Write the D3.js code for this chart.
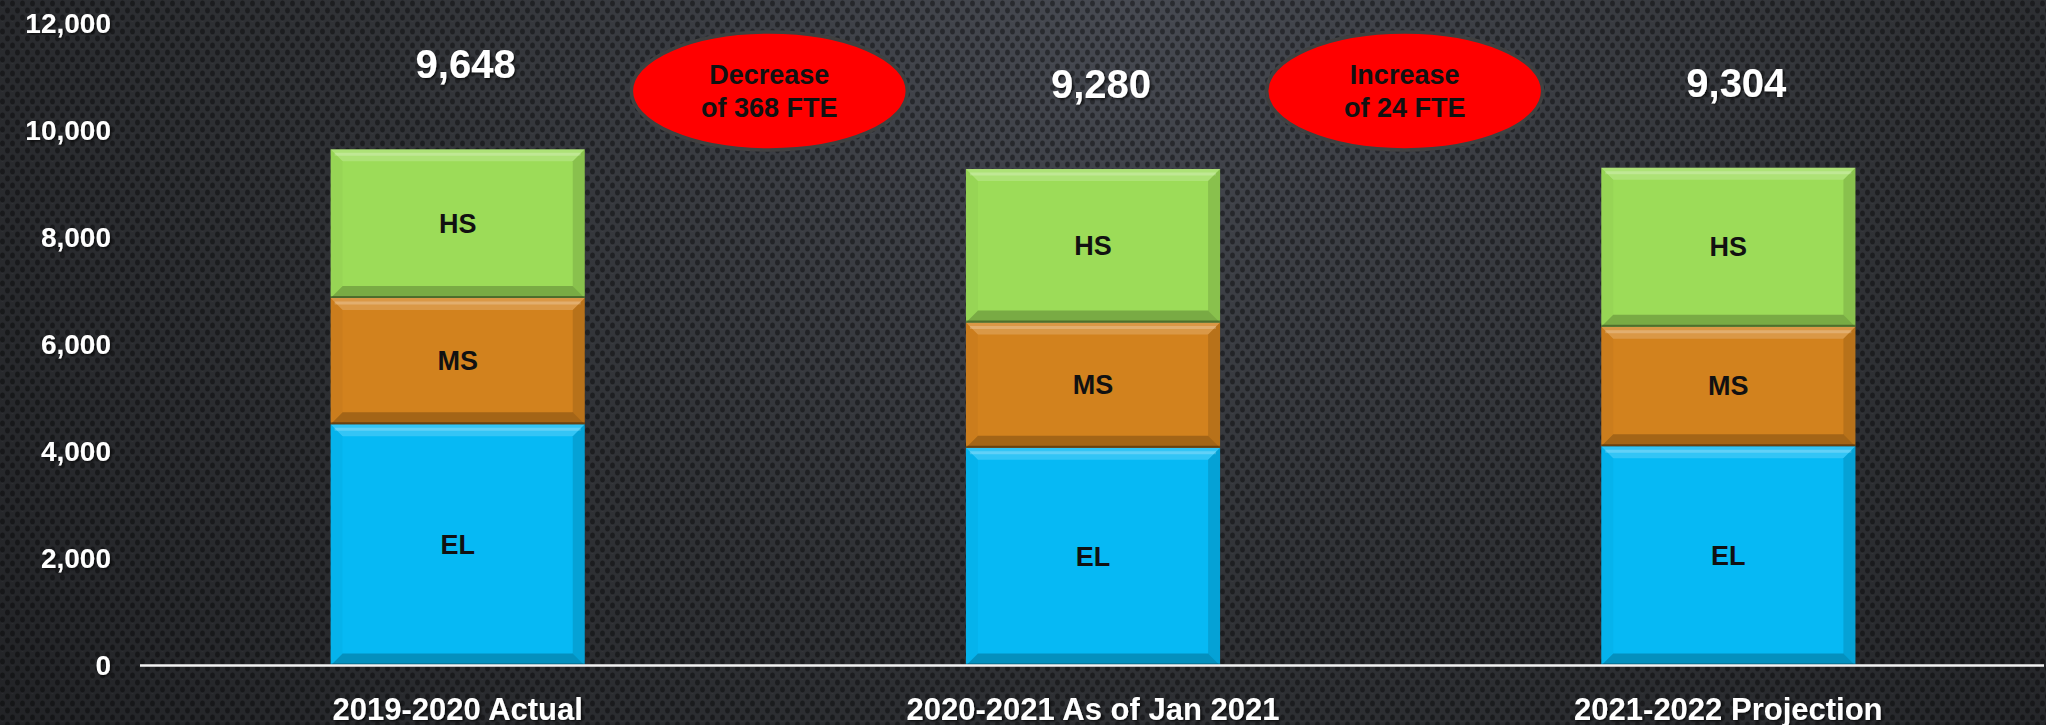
<!DOCTYPE html>
<html>
<head>
<meta charset="utf-8">
<script src="https://cdn.jsdelivr.net/npm/d3@7"></script>
<style>
  html, body { margin: 0; padding: 0; background: #202124; }
  svg { display: block; }
</style>
</head>
<body>
<div id="chart"></div>
<script>
const width = 2046;
const height = 725;

// Data
const categories = ["2019-2020 Actual", "2020-2021 As of Jan 2021", "2021-2022 Projection"];
const levels = ["EL", "MS", "HS"];
const elValues = [4510, 4070, 4100];
const msValues = [2360, 2340, 2230];
const hsValues = [2778, 2870, 2974];
const yTicks = [0, 2000, 4000, 6000, 8000, 10000, 12000];

const colors = { EL: "#06B9F4", MS: "#D2821E", HS: "#9CDC58" };
const font = "'Liberation Sans', Arial, sans-serif";

const rows = categories.map((c, i) => ({ cat: c, EL: elValues[i], MS: msValues[i], HS: hsValues[i] }));
const totals = rows.map(r => r.EL + r.MS + r.HS);

const svg = d3.select("#chart")
    .append("svg")
    .attr("width", width)
    .attr("height", height);

const defs = svg.append("defs");

// background: dark perforated metal look
const bg = defs.append("radialGradient")
    .attr("id", "bgGrad")
    .attr("cx", "55%").attr("cy", "0%").attr("r", "85%")
    .attr("gradientTransform", "scale(1,2.2)");
bg.append("stop").attr("offset", "0%").attr("stop-color", "#474a52");
bg.append("stop").attr("offset", "45%").attr("stop-color", "#303236");
bg.append("stop").attr("offset", "100%").attr("stop-color", "#1c1d20");

const pat = defs.append("pattern")
    .attr("id", "dots")
    .attr("width", 10).attr("height", 14)
    .attr("patternUnits", "userSpaceOnUse");
pat.append("ellipse").attr("cx", 2.5).attr("cy", 3.5).attr("rx", 2.4).attr("ry", 3)
    .attr("fill", "rgba(0,0,0,0.4)");
pat.append("ellipse").attr("cx", 7.5).attr("cy", 10.5).attr("rx", 2.4).attr("ry", 3)
    .attr("fill", "rgba(0,0,0,0.4)");
pat.append("rect").attr("x", 1.5).attr("y", 6.8).attr("width", 2).attr("height", 0.8)
    .attr("fill", "rgba(255,255,255,0.05)");

const shadow = defs.append("filter").attr("id", "txtShadow")
    .attr("x", "-20%").attr("y", "-20%").attr("width", "140%").attr("height", "140%");
shadow.append("feDropShadow").attr("dx", 1.5).attr("dy", 1.5).attr("stdDeviation", 1.2)
    .attr("flood-color", "#000").attr("flood-opacity", 0.7);

svg.append("rect").attr("width", width).attr("height", height).attr("fill", "url(#bgGrad)");
svg.append("rect").attr("width", width).attr("height", height).attr("fill", "url(#dots)");

// Scales
const x = d3.scaleBand()
    .domain(categories)
    .range([140, width])
    .paddingInner(0.6)
    .paddingOuter(0.3);

const y = d3.scaleLinear()
    .domain([0, 12000])
    .range([665.5, 23.5]);

// y axis labels only
const yAxis = svg.append("g")
    .attr("transform", "translate(140,0)")
    .call(d3.axisLeft(y).tickValues(yTicks).tickFormat(d3.format(",")).tickSize(0).tickPadding(29));
yAxis.select(".domain").remove();
yAxis.selectAll("text")
    .attr("fill", "#fff")
    .attr("font-family", font)
    .attr("font-weight", "bold")
    .attr("font-size", 28)
    .attr("filter", "url(#txtShadow)");

// stacked bars
const series = d3.stack().keys(levels)(rows);
const bevel = 12;

const segs = svg.append("g").selectAll("g")
    .data(series)
    .join("g")
    .selectAll("g")
    .data(s => s.map(d => ({ key: s.key, y0: d[0], y1: d[1], cat: d.data.cat })))
    .join("g");

segs.each(function (d) {
    const g = d3.select(this);
    const x0 = x(d.cat), x1 = x0 + x.bandwidth();
    const top = y(d.y1), bot = y(d.y0);
    const b = bevel;
    g.append("rect")
        .attr("x", x0).attr("y", top)
        .attr("width", x1 - x0).attr("height", bot - top)
        .attr("fill", colors[d.key]);
    // top highlight
    g.append("polygon")
        .attr("points", [[x0, top], [x1, top], [x1 - b, top + b], [x0 + b, top + b]].join(" "))
        .attr("fill", "rgba(255,255,255,0.18)");
    g.append("line")
        .attr("x1", x0 + 4).attr("x2", x1 - 4).attr("y1", top + 5).attr("y2", top + 5)
        .attr("stroke", "rgba(255,255,255,0.22)").attr("stroke-width", 3);
    // bottom shade
    g.append("polygon")
        .attr("points", [[x0, bot], [x1, bot], [x1 - b, bot - b], [x0 + b, bot - b]].join(" "))
        .attr("fill", "rgba(0,0,0,0.22)");
    // left side
    g.append("polygon")
        .attr("points", [[x0, top], [x0 + b, top + b], [x0 + b, bot - b], [x0, bot]].join(" "))
        .attr("fill", "rgba(0,0,0,0.03)");
    // right side
    g.append("polygon")
        .attr("points", [[x1, top], [x1 - b, top + b], [x1 - b, bot - b], [x1, bot]].join(" "))
        .attr("fill", "rgba(0,0,0,0.12)");
    g.append("line")
        .attr("x1", x0).attr("x2", x1).attr("y1", bot - 1).attr("y2", bot - 1)
        .attr("stroke", "rgba(0,0,0,0.35)").attr("stroke-width", 2);
    g.append("text")
        .attr("x", (x0 + x1) / 2)
        .attr("y", (top + bot) / 2)
        .attr("text-anchor", "middle")
        .attr("dominant-baseline", "central")
        .attr("font-family", font)
        .attr("font-weight", "bold")
        .attr("font-size", 27)
        .attr("fill", "#111")
        .text(d.key);
});

// baseline
svg.append("line")
    .attr("x1", 140).attr("x2", width - 2)
    .attr("y1", y(0)).attr("y2", y(0))
    .attr("stroke", "#f2f2f2")
    .attr("stroke-width", 2.5);

// category labels
svg.append("g").selectAll("text")
    .data(categories)
    .join("text")
    .attr("x", d => x(d) + x.bandwidth() / 2)
    .attr("y", 709)
    .attr("text-anchor", "middle")
    .attr("dominant-baseline", "central")
    .attr("font-family", font)
    .attr("font-weight", "bold")
    .attr("font-size", 31)
    .attr("fill", "#fff")
    .attr("filter", "url(#txtShadow)")
    .text(d => d);

// totals above bars
svg.append("g").selectAll("text")
    .data(totals)
    .join("text")
    .attr("x", (d, i) => x(categories[i]) + x.bandwidth() / 2 + 8)
    .attr("y", d => y(d) - 85)
    .attr("text-anchor", "middle")
    .attr("dominant-baseline", "central")
    .attr("font-family", font)
    .attr("font-weight", "bold")
    .attr("font-size", 40)
    .attr("fill", "#fff")
    .attr("filter", "url(#txtShadow)")
    .text(d => d3.format(",")(d));

// change callouts between bars
const changes = totals.slice(1).map((t, i) => ({
    from: categories[i], to: categories[i + 1], diff: t - totals[i]
}));

const callouts = svg.append("g").selectAll("g")
    .data(changes)
    .join("g")
    .attr("transform", d => {
        const cx = (x(d.from) + x(d.to)) / 2 + x.bandwidth() / 2 - 6;
        return `translate(${cx},91)`;
    });

callouts.append("ellipse")
    .attr("rx", 138).attr("ry", 59)
    .attr("fill", "#FF0000")
    .attr("stroke", "#404040")
    .attr("stroke-width", 3.5);

callouts.append("text")
    .attr("text-anchor", "middle")
    .attr("font-family", font)
    .attr("font-weight", "bold")
    .attr("font-size", 27)
    .attr("fill", "#111")
    .selectAll("tspan")
    .data(d => [d.diff < 0 ? "Decrease" : "Increase", `of ${Math.abs(d.diff)} FTE`])
    .join("tspan")
    .attr("x", 0)
    .attr("y", (d, i) => i === 0 ? -16 : 17)
    .attr("dominant-baseline", "central")
    .text(d => d);
</script>
</body>
</html>
